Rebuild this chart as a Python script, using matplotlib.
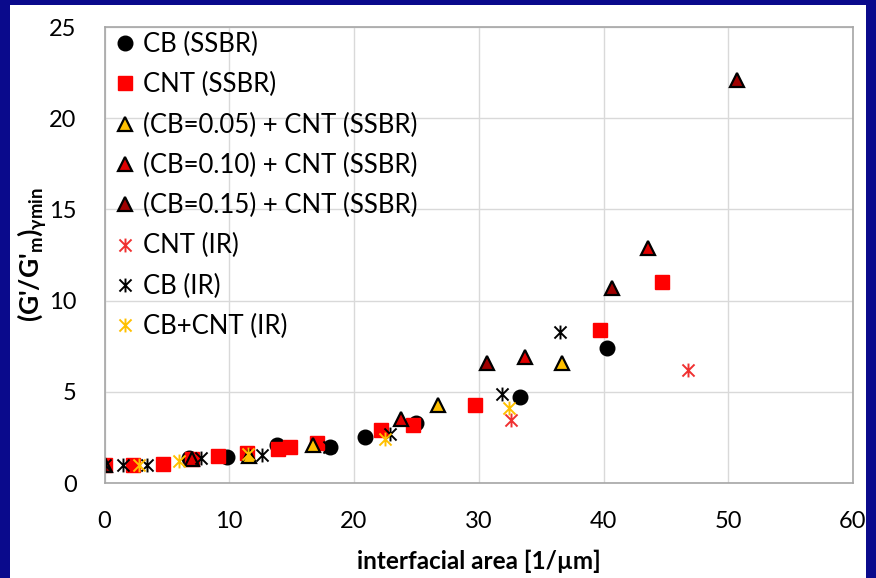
import matplotlib
matplotlib.use("Agg")
import matplotlib.pyplot as plt
from matplotlib.patches import Rectangle
from matplotlib.path import Path

plt.rcParams['font.family'] = ['Lato', 'DejaVu Sans']
plt.rcParams['mathtext.fontset'] = 'custom'
plt.rcParams['mathtext.rm'] = 'Lato'
plt.rcParams['mathtext.bf'] = 'Lato:bold'

# data (x = interfacial area, y = (G'/G'm) at gamma min)
cb_ssbr_x = [6.8, 9.8, 13.8, 18.1, 20.9, 25.0, 33.3, 40.3]
cb_ssbr_y = [1.35, 1.45, 2.1, 2.0, 2.5, 3.3, 4.7, 7.4]

cnt_ssbr_x = [0.0, 2.3, 4.7, 7.0, 9.1, 11.4, 13.9, 14.9, 17.0, 22.2, 24.7, 29.7, 39.7, 44.7]
cnt_ssbr_y = [1.0, 1.0, 1.05, 1.3, 1.5, 1.65, 1.85, 2.0, 2.2, 2.9, 3.2, 4.3, 8.4, 11.0]

cb05_x = [11.6, 16.7, 26.7, 36.7]
cb05_y = [1.5, 2.1, 4.3, 6.6]

cb10_x = [7.0, 23.8, 33.7, 43.6]
cb10_y = [1.3, 3.5, 6.9, 12.9]

cb15_x = [0.0, 30.7, 40.7, 50.7]
cb15_y = [1.0, 6.6, 10.7, 22.1]

cnt_ir_x = [32.6, 46.8]
cnt_ir_y = [3.45, 6.2]

cb_ir_x = [0.0, 1.5, 3.4, 7.7, 12.6, 18.0, 22.9, 31.9, 36.5]
cb_ir_y = [1.0, 1.0, 1.0, 1.35, 1.55, 2.0, 2.7, 4.9, 8.3]

cbcnt_ir_x = [2.8, 6.0, 11.5, 22.5, 32.4]
cbcnt_ir_y = [1.0, 1.2, 1.6, 2.4, 4.1]

W, H = 876, 578
fig = plt.figure(figsize=(W / 100, H / 100), dpi=100)
fig.patch.set_facecolor('#0A0A8C')
# white slide panel
fig.add_artist(Rectangle((10 / W, 0), 856 / W, 573 / H, transform=fig.transFigure,
                         facecolor='white', edgecolor='none', zorder=0))

ax = fig.add_axes([104.5 / W, 1 - 483 / H, (853 - 104.5) / W, (483 - 27) / H])

# excel style star: an X with a vertical bar through it
star = Path([(-1, -1), (1, 1), (-1, 1), (1, -1), (0, -1.15), (0, 1.15)],
            [Path.MOVETO, Path.LINETO, Path.MOVETO, Path.LINETO, Path.MOVETO, Path.LINETO])

ax.plot(cb_ssbr_x, cb_ssbr_y, 'o', color='black', ms=10.5, label='CB (SSBR)')
ax.plot(cnt_ssbr_x, cnt_ssbr_y, 's', color='#FF0000', ms=10, label='CNT (SSBR)')
ax.plot(cb05_x, cb05_y, '^', mfc='#FFC000', mec='black', mew=1.6, ms=10,
        label='(CB=0.05) + CNT (SSBR)')
ax.plot(cb10_x, cb10_y, '^', mfc='#E00000', mec='black', mew=1.6, ms=10,
        label='(CB=0.10) + CNT (SSBR)')
ax.plot(cb15_x, cb15_y, '^', mfc='#A00000', mec='black', mew=1.6, ms=10,
        label='(CB=0.15) + CNT (SSBR)')
ax.plot(cnt_ir_x, cnt_ir_y, ls='none', marker=star, color='#F03030', mew=1.4, ms=10,
        label='CNT (IR)')
ax.plot(cb_ir_x, cb_ir_y, ls='none', marker=star, color='black', mew=1.4, ms=10,
        label='CB (IR)')
ax.plot(cbcnt_ir_x, cbcnt_ir_y, ls='none', marker=star, color='#FFC000', mew=1.4, ms=10,
        label='CB+CNT (IR)')

ax.set_xlim(0, 60)
ax.set_ylim(0, 25)
ax.set_xticks(range(0, 61, 10))
ax.set_yticks(range(0, 26, 5))
ax.grid(True, color='#D9D9D9', lw=1)
ax.set_axisbelow(True)
ax.tick_params(length=0, labelsize=17, pad=20)
for s in ax.spines.values():
    s.set_color('#A6A6A6')
    s.set_linewidth(1.2)

ax.set_xlabel('interfacial area [1/\u00b5m]', fontsize=17.5, fontweight='bold', labelpad=13)
ax.set_ylabel(r"(G'/G'$_{\mathbf{m}}$)$_{\mathbf{\gamma min}}$", fontsize=19,
              fontweight='bold', labelpad=0)

ax.legend(loc='upper left', frameon=False, fontsize=18.5, handletextpad=0.1,
          labelspacing=0.59, borderaxespad=0.0, borderpad=0.2, handlelength=1.2)

fig.savefig('out.png', dpi=100, facecolor=fig.get_facecolor())
